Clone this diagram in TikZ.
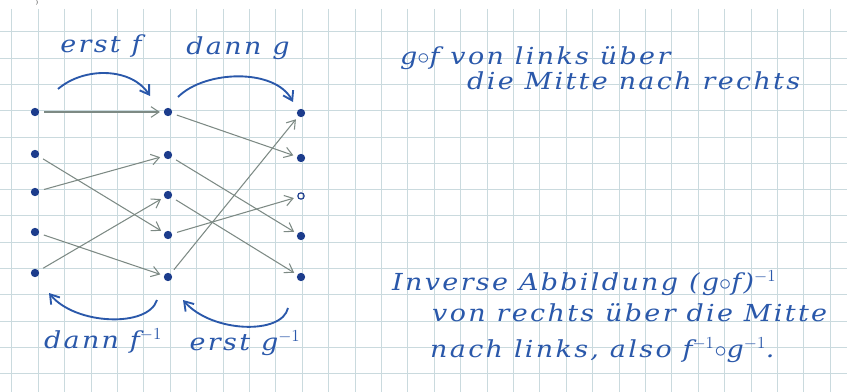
\documentclass[tikz,border=0pt]{standalone}
\usepackage{fontspec}
\setmainfont{DejaVu Serif}[FakeStretch=1.15,LetterSpace=10]
\usetikzlibrary{arrows.meta}
\definecolor{ink}{RGB}{42,88,170}
\definecolor{dotink}{RGB}{28,60,140}
\definecolor{pencil}{RGB}{125,138,132}
\definecolor{gridc}{RGB}{202,218,222}
\tikzset{
  dot/.style={circle,fill=dotink,inner sep=0pt,minimum size=2.5mm},
  ring/.style={circle,draw=dotink,line width=1pt,inner sep=0pt,minimum size=1.9mm},
  edge/.style={-{Straight Barb[length=2.4mm,width=3.2mm]},pencil,line width=.9pt,
    shorten <=1.5mm,shorten >=1.1mm},
  bow/.style={-{Straight Barb[length=2.6mm,width=3.4mm]},ink,line width=1.6pt},
  hand/.style={text=ink,font=\fontsize{20}{24}\selectfont\itshape,inner sep=0pt},
}
\begin{document}
\begin{tikzpicture}[x=.3mm,y=-.3mm]
 \useasboundingbox (0,0) rectangle (847,392);
 % squared paper
 \foreach \k in {0,...,31}
   \draw[gridc,line width=.6pt] ({11.7+26.4*\k},9)--({11.7+26.4*\k},392);
 \foreach \k in {0,...,13}
   \draw[gridc,line width=.6pt] (0,{31.7+26.3*\k})--(847,{31.7+26.3*\k});
 \node[font=\tiny,text=black!70,anchor=north,inner sep=0pt] (frag) at (37,0) {)};
 % the three sets
 \foreach \y [count=\i] in {112,154,192,232,273}
   \node[dot] (l\i) at (35,\y) {};
 \foreach \y [count=\i] in {112,155,195,235,277}
   \node[dot] (m\i) at (168,\y) {};
 \foreach \y/\s [count=\i] in {113/dot,158/dot,196/ring,236/dot,277/dot}
   \node[\s] (r\i) at (301,\y) {};
 % f and g
 \foreach \a/\b in {l1/m1,l2/m4,l3/m2,l4/m5,l5/m3,m1/r2,m2/r4,m3/r5,m4/r3,m5/r1}
   \draw[edge] (\a)--(\b);
 % bows
 \coordinate (f0) at (58,89);   \coordinate (f1) at (150,96);
 \coordinate (g0) at (178,97);  \coordinate (g1) at (293,102);
 \coordinate (fi0) at (157,300); \coordinate (fi1) at (49,293);
 \coordinate (gi0) at (288,308); \coordinate (gi1) at (183,300);
 \draw[bow] (f0) .. controls (85,66) and (132,68) .. (f1);
 \draw[bow] (g0) .. controls (205,70) and (275,68) .. (g1);
 \draw[bow] (fi0) .. controls (148,328) and (75,325) .. (fi1);
 \draw[bow] (gi0) .. controls (282,335) and (212,333) .. (gi1);
 \node[hand,anchor=base] (erstf) at (101,53) {erst f};
 \node[hand,anchor=base] (danng) at (238,55) {dann g};
 \node[hand,anchor=base] (dannfi) at (103,348) {dann f$^{-1}$};
 \node[hand,anchor=base] (erstgi) at (245,350) {erst g$^{-1}$};
 % the notes
 \node[hand,anchor=base west] (note1) at (400,65) {g$\circ$f von links über};
 \node[hand,anchor=base west] (note2) at (467,90) {die Mitte nach rechts};
 \node[hand,anchor=base west] (note3) at (392,290) {Inverse Abbildung (g$\circ$f)$^{-1}$};
 \node[hand,anchor=base west] (note4) at (432,321) {von rechts über die Mitte};
 \node[hand,anchor=base west] (note5) at (430,357) {nach links, also f$^{-1}\circ$g$^{-1}$.};
\end{tikzpicture}
\end{document}
